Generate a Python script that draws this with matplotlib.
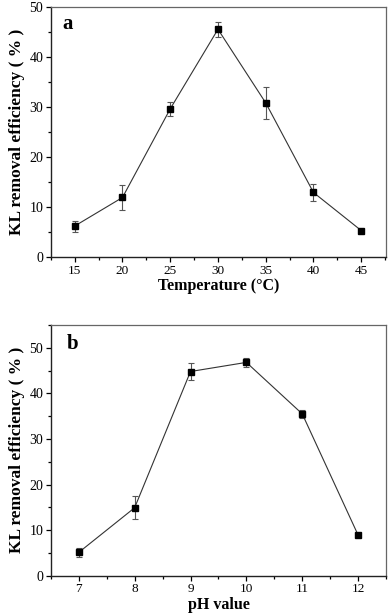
import matplotlib
matplotlib.use("Agg")
import matplotlib.pyplot as plt
from matplotlib.ticker import MultipleLocator

plt.rcParams['font.family'] = ['Liberation Serif', 'DejaVu Serif']

# panel a: temperature
temp = [15, 20, 25, 30, 35, 40, 45]
temp_eff = [6.2, 11.9, 29.6, 45.5, 30.8, 12.9, 5.3]
temp_err = [1.1, 2.45, 1.35, 1.45, 3.2, 1.7, 0.3]

# panel b: pH
ph = [7, 8, 9, 10, 11, 12]
ph_eff = [5.1, 14.9, 44.8, 46.8, 35.5, 8.9]
ph_err = [0.9, 2.5, 1.9, 1.05, 0.8, 0.5]

ylabel = "KL removal efficiency ( % )"

fig = plt.figure(figsize=(3.88, 6.15), dpi=100)
ax_a = fig.add_axes([0.131, 0.582, 0.864, 0.407])
ax_b = fig.add_axes([0.131, 0.064, 0.864, 0.4075])


def style(ax, x, y, err, xlim, ylim, xmajor, xminor, xlabel, tag, tagpos):
    ax.errorbar(x, y, yerr=err, color='#333333', lw=0.8, ecolor='#555555',
                elinewidth=0.8, capsize=2.2, capthick=0.8,
                marker='s', ms=4.2, mfc='black', mec='black')
    ax.set_xlim(*xlim)
    ax.set_ylim(*ylim)
    ax.xaxis.set_major_locator(MultipleLocator(xmajor))
    ax.xaxis.set_minor_locator(MultipleLocator(xminor))
    ax.set_yticks([0, 10, 20, 30, 40, 50])
    ax.yaxis.set_minor_locator(MultipleLocator(5))
    ax.tick_params(which='both', direction='out', width=0.9,
                   top=False, right=False)
    ax.tick_params(axis='x', labelsize=9.5)
    ax.tick_params(axis='y', labelsize=10)
    ax.tick_params(which='major', length=3.5, pad=2)
    ax.tick_params(which='minor', length=2)
    for s in ['left', 'bottom']:
        ax.spines[s].set_linewidth(1.0)
        ax.spines[s].set_color('#222222')
    for s in ['top', 'right']:
        ax.spines[s].set_linewidth(0.9)
        ax.spines[s].set_color('#666666')
    ax.set_xlabel(xlabel, fontsize=11.5, fontweight='bold', labelpad=1)
    ax.set_ylabel(ylabel, fontsize=12.5, fontweight='bold', labelpad=3)
    ax.text(tagpos[0], tagpos[1], tag, transform=ax.transAxes, fontsize=15,
            fontweight='bold', va='top', ha='left')


style(ax_a, temp, temp_eff, temp_err, (12.5, 47.6), (0, 50), 5, 2.5,
      "Temperature (\u00b0C)", "a", (0.033, 0.97))
style(ax_b, ph, ph_eff, ph_err, (6.5, 12.5), (0, 55), 1, 0.5,
      "pH value", "b", (0.047, 0.965))

fig.savefig("out.png", dpi=100)
